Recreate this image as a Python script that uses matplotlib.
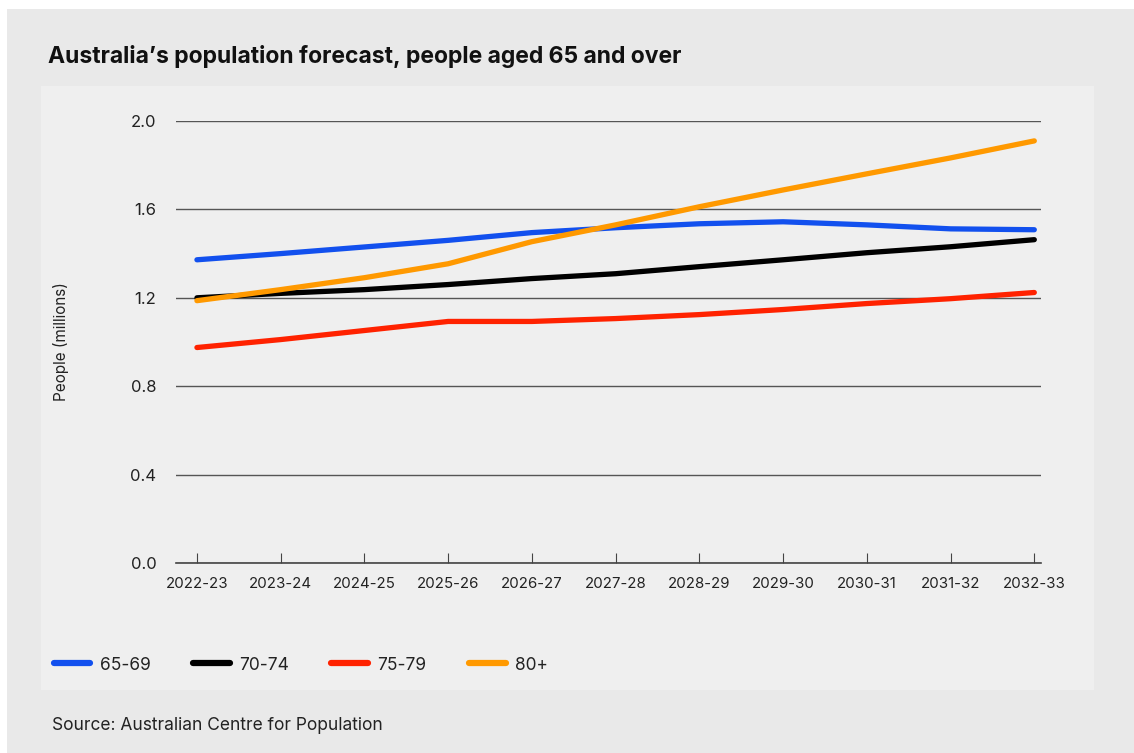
import matplotlib.pyplot as plt
from matplotlib.patches import Rectangle
from matplotlib.lines import Line2D

plt.rcParams['font.family'] = ['Inter', 'DejaVu Sans']

years = ['2022-23', '2023-24', '2024-25', '2025-26', '2026-27', '2027-28',
         '2028-29', '2029-30', '2030-31', '2031-32', '2032-33']
age_65_69 = [1.372, 1.40, 1.43, 1.46, 1.495, 1.517, 1.535, 1.544, 1.53, 1.512, 1.508]
age_70_74 = [1.20, 1.22, 1.237, 1.26, 1.287, 1.309, 1.341, 1.372, 1.404, 1.431, 1.463]
age_75_79 = [0.975, 1.011, 1.052, 1.093, 1.093, 1.106, 1.124, 1.147, 1.174, 1.196, 1.224]
age_80 = [1.187, 1.237, 1.291, 1.354, 1.454, 1.53, 1.612, 1.688, 1.761, 1.833, 1.91]
series = ['65-69', '70-74', '75-79', '80+']
colors = ['#1250ee', '#000000', '#ff2200', '#ff9900']

W, H = 1134, 753
fig = plt.figure(figsize=(W / 100, H / 100), dpi=100)
fig.patch.set_facecolor('white')

# background boxes (pixel coords)
def px_rect(x0, y0, x1, y1, color):
    fig.patches.append(Rectangle((x0 / W, 1 - y1 / H), (x1 - x0) / W, (y1 - y0) / H,
                                 transform=fig.transFigure, facecolor=color,
                                 edgecolor='none', zorder=-10))

px_rect(7, 9, W, H, '#e9e9e9')
px_rect(41, 86, 1094, 690, '#efefef')

ax = fig.add_axes([176 / W, 1 - 563 / H, (1041 - 176) / W, (563 - 121) / H])
ax.set_facecolor('none')

x = list(range(len(years)))
for vals, c, name in zip([age_65_69, age_70_74, age_75_79, age_80], colors, series):
    ax.plot(x, vals, color=c, lw=3.8, solid_capstyle='round', label=name, zorder=3)

ax.set_ylim(0, 2.0)
ax.set_xlim(-0.25, 10.08)
ax.set_yticks([0.0, 0.4, 0.8, 1.2, 1.6, 2.0])
ax.set_yticklabels(['0.0', '0.4', '0.8', '1.2', '1.6', '2.0'])
ax.set_xticks(x)
ax.set_xticklabels(years)
ax.yaxis.grid(True, color='#555555', lw=1)
ax.set_axisbelow(True)
for s in ['top', 'right', 'left']:
    ax.spines[s].set_visible(False)
ax.spines['bottom'].set_color('#444444')
ax.spines['bottom'].set_linewidth(1.2)
ax.tick_params(axis='y', length=0, pad=14, labelsize=12, labelcolor='#222222')
ax.tick_params(axis='x', direction='in', length=7, color='#444444', pad=10,
               labelsize=10.8, labelcolor='#222222')
ax.set_ylabel('People (millions)', fontsize=11, color='#222222', labelpad=44)

fig.text(48 / W, 1 - 57 / H, 'Australia\u2019s population forecast, people aged 65 and over',
         fontsize=16.5, fontweight='bold', va='center', ha='left', color='#111111')

# legend
handles = [Line2D([0], [0], color=c, lw=4.5, solid_capstyle='round') for c in colors]
fig.legend(handles, series, loc='center left', bbox_to_anchor=(38 / W, 1 - 665 / H),
           ncol=4, frameon=False, fontsize=12.5, handlelength=2.1, handletextpad=0.55,
           columnspacing=2.45, labelcolor='#222222')

fig.text(52 / W, 1 - 725 / H, 'Source: Australian Centre for Population',
         fontsize=12.5, va='center', ha='left', color='#222222')

fig.savefig('out.png', dpi=100)
